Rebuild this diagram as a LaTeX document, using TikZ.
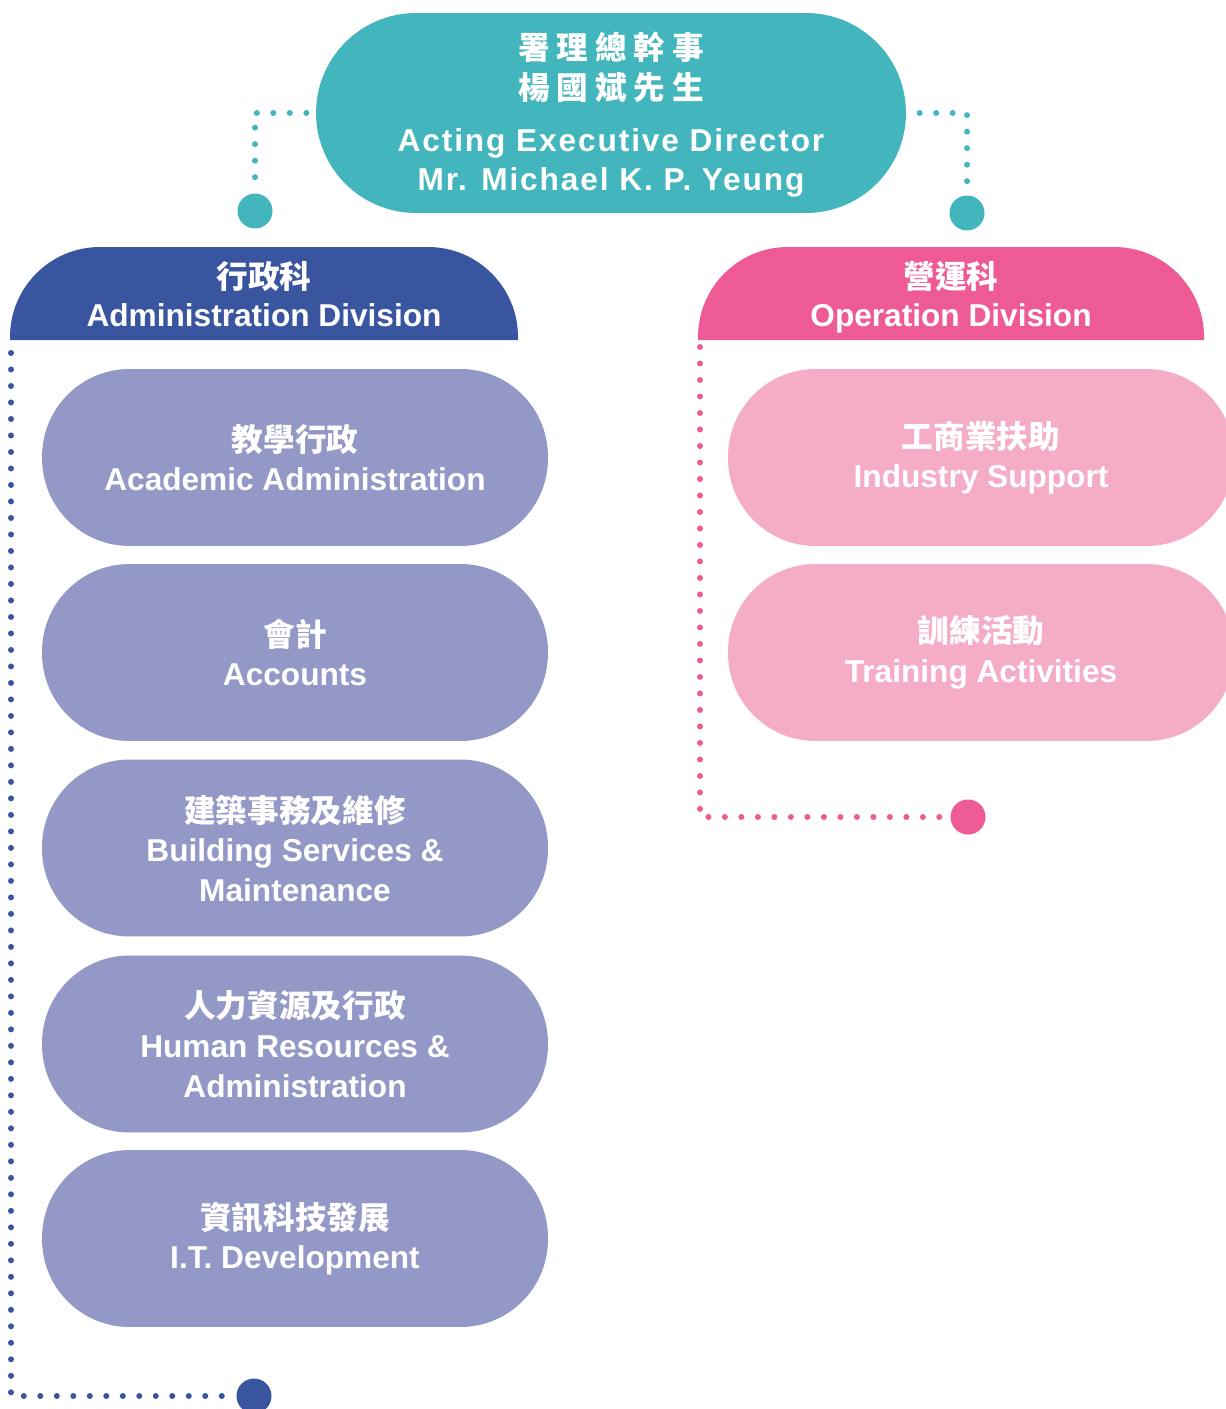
\documentclass[tikz,border=0pt]{standalone}
\usepackage{fontspec}
\setmainfont{Liberation Sans}
\newfontfamily\cjk{Noto Sans CJK TC}
\newfontfamily\cjkwide{Noto Sans CJK TC}[LetterSpace=22]
\newfontfamily\enwide{Liberation Sans}[LetterSpace=6]
\definecolor{tealc}{HTML}{43B5BC}
\definecolor{adminc}{HTML}{3A55A0}
\definecolor{lavc}{HTML}{9498C6}
\definecolor{opc}{HTML}{EE5A96}
\definecolor{lpinkc}{HTML}{F5ADC7}
\begin{document}
\begin{tikzpicture}[x=0.02cm,y=-0.02cm,
  txt/.style={text=white,align=center,font=\bfseries\fontsize{18}{22.5}\selectfont},
  headtxt/.style={txt,font=\bfseries\fontsize{18}{21.5}\selectfont},
  unitbox/.style={txt,rounded corners=1.75cm,minimum width=10.12cm,minimum height=3.54cm,inner sep=0pt},
  adminbox/.style={unitbox,fill=lavc},
  opbox/.style={unitbox,fill=lpinkc},
  dots/.style={line width=0.12cm,dash pattern=on 0pt off 0.33cm,line cap=round},
  endcircle/.style={circle,minimum size=0.7cm,inner sep=0pt}]
\useasboundingbox (0,0) rectangle (1226,1409);
\clip (0,0) rectangle (1226,1409);

% top node
\node[fill=tealc,rounded corners=2cm,minimum width=11.8cm,minimum height=4cm,inner sep=0pt] (top) at (611,113) {};
\node[txt] (toptxt) at (611,115)
  {\cjkwide 署理總幹事\\\cjkwide 楊國斌先生\\[7pt]\enwide Acting Executive Director\\\enwide Mr. Michael K. P. Yeung};

% end circles
\node[endcircle,fill=tealc] (cl) at (255,211) {};
\node[endcircle,fill=tealc] (cr) at (967,213) {};
\node[endcircle,fill=opc] (cp) at (968,817) {};
\node[endcircle,fill=adminc] (cb) at (254,1396) {};

% division headers
\fill[adminc] (10,340) [rounded corners=1.8cm] -- (10,247) -- (518,247) [sharp corners] -- (518,340) -- cycle;
\node[headtxt] (adminhead) at (264,294.5) {\cjk 行政科\\\rmfamily Administration Division};
\coordinate (adminfoot) at (11,353);

\fill[opc] (698,340) [rounded corners=1.8cm] -- (698,247) -- (1204,247) [sharp corners] -- (1204,340) -- cycle;
\node[headtxt] (ophead) at (951,297) {\cjk 營運科\\\rmfamily Operation Division};
\coordinate (opfoot) at (700,347);

% units
\node[adminbox] (aa) at (295,457.5) {\cjk 教學行政\\\rmfamily Academic Administration};
\node[adminbox] (ac) at (295,652.5) {\cjk 會計\\\rmfamily Accounts};
\node[adminbox] (bs) at (295,848) {\cjk 建築事務及維修\\\rmfamily Building Services \&\\\rmfamily Maintenance};
\node[adminbox] (hr) at (295,1044) {\cjk 人力資源及行政\\\rmfamily Human Resources \&\\\rmfamily Administration};
\node[adminbox] (it) at (295,1238.5) {\cjk 資訊科技發展\\\rmfamily I.T. Development};

\node[opbox] (is) at (981,457.5) {\cjk 工商業扶助\\\rmfamily Industry Support};
\node[opbox] (ta) at (981,652.5) {\cjk 訓練活動\\\rmfamily Training Activities};

% dotted connectors
\draw[dots,tealc] ([yshift=0.32cm]cl.north) |- ([xshift=-0.18cm]top.west);
\draw[dots,tealc] ([yshift=0.28cm]cr.north) |- ([xshift=0.12cm]top.east);
\draw[dots,adminc] (adminfoot) |- ([xshift=-0.26cm]cb.west);
\draw[dots,opc] (opfoot) |- ([xshift=-0.18cm]cp.west);
\end{tikzpicture}
\end{document}
